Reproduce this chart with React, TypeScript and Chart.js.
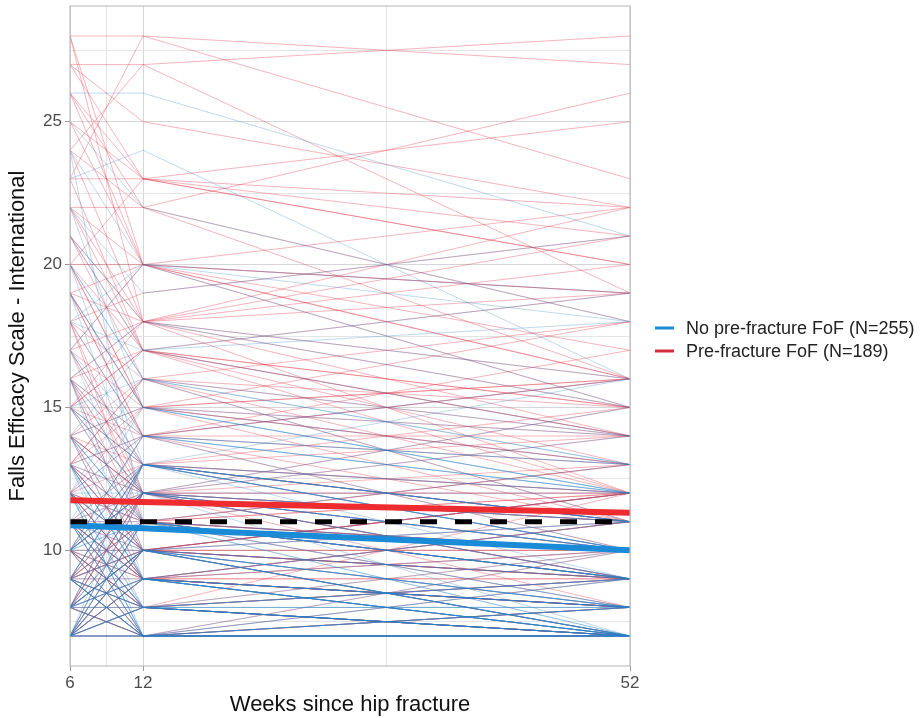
import React, { useEffect, useRef } from "react";
import { Chart, registerables } from "chart.js";

Chart.register(...registerables);

const weeks = [6, 12, 52];

// No pre-fracture FoF individual trajectories (null = missing visit)
const noFofW6 = [
  7, 7, 7, 8, 9, 7, 8, 10, 12, 7,
  9, 11, 13, 8, 10, 14, 16, 7, 9, 11,
  12, 15, 17, 8, 10, 7, 13, 18, 20, 22,
  9, 11, 12, 7, 8, 14, 16, 19, 21, 24,
  26, 10, 12, 7, 9, 11, 13, 15, 8, 10,
  17, 23, 7, 9, 12, 14, 18, 8, 10, 16,
  7, 9, 11, 13, 20, 25, 15, 8, 12, 10,
  7, 9, 14, 11, 19, 22, 8, 13, 16, 7,
  10, 12, 9, 17, 21, 11, 8, 15, 14, 7,
  10, 13, 18, 24, 7, 9, 12, 11, 8, 16,
  8, 7, 9, 10, 11, 7, 12, 8, 9, 13,
  7, 10, 14, 8, 11, 9, 7, 12, 15, 10,
  8, 13, 9, 7, 11, 16, 10, 8, 12, 9,
  7, 14, 10, 11, 8, 19, 9, 13, 7, 12,
  10, 8, 17, 9, 11, 7, 13, 10, 8, 15,
  9, 12, 7, 11, 10, 14, 8, 20, 9, 7,
];
const noFofW12 = [
  7, 7, 8, 7, 7, 9, 8, 8, 9, 10,
  11, 7, 10, 12, 10, 12, 9, 7, 9, 13,
  8, 11, 13, 9, 12, 11, 7, 14, 16, 15,
  8, 10, 14, 8, 10, 9, 13, 12, 18, 20,
  26, 7, 11, 9, 10, 8, 12, 16, 7, 9,
  20, 24, 12, 13, 10, 15, 17, 11, 14, 10,
  7, 8, 9, 11, 13, 22, 12, 13, 16, 11,
  10, 7, 11, 12, 15, 19, 8, 9, 14, 13,
  8, 12, 10, 11, 17, 11, 9, 13, 17, 8,
  13, 14, 20, 11, 7, 12, 7, 15, 10, 18,
  9, 8, 7, 12, 8, 10, 7, 11, 13, 9,
  12, 7, 10, 13, 9, 7, 11, 8, 12, 14,
  10, 9, 8, 11, 7, 12, 13, 7, 10, 8,
  9, 11, 12, 7, 10, 15, 13, 8, 11, 7,
  12, 9, 14, 7, 8, 10, 9, 11, 10, 13,
  7, 10, 9, 8, 12, 11, 10, 16, 13, 8,
];
const noFofW52 = [
  7, 7, 7, 7, 7, 8, 7, 7, 7, 9,
  8, 8, 7, 10, 9, 11, 8, 9, 7, 10,
  7, 9, 12, 11, 7, 8, 7, 10, 13, 14,
  8, 11, 16, 9, 7, 8, 11, 9, 15, 19,
  21, 8, 13, 7, 12, 9, 10, 14, 8, 10,
  18, 16, 11, 9, 8, 12, 19, 9, 13, 7,
  8, 7, 7, 9, 10, 18, 15, 12, 11, 10,
  7, 9, 7, 9, 12, 21, 10, 11, 13, 10,
  7, 12, 8, 9, 14, 7, 7, 16, 18, 8,
  11, 12, 15, 9, 10, 14, 7, 13, 11, 16,
  8, 7, 7, null, 9, 8, 7, null, 10, 7,
  9, 7, null, 11, 8, 7, 9, null, 10, 12,
  7, 8, 7, null, 7, 10, 11, 7, null, 8,
  7, 9, null, 8, 7, 12, 10, 7, 9, null,
  11, 8, 12, 7, null, 9, 7, 10, 8, 11,
  null, 8, 7, 9, 10, null, 7, 13, 11, 7,
];

// Pre-fracture FoF individual trajectories (null = missing visit)
const fofW6 = [
  7, 8, 7, 9, 10, 12, 14, 16, 18, 20,
  22, 23, 28, 27, 24, 26, 28, 21, 19, 17,
  15, 13, 11, 10, 9, 8, 7, 12, 14, 16,
  18, 20, 25, 27, 28, 22, 19, 17, 15, 13,
  11, 10, 9, 8, 7, 12, 14, 16, 18, 21,
  23, 26, 24, 20, 17, 15, 13, 11, 9, 8,
  10, 12, 14, 16, 19, 22, 25, 7, 9, 11,
  13, 15, 17, 20, 23, 18, 12, 10, 8, 14,
  16, 21, 26, 19, 11, 13, 15, 27, 24, 9,
  9, 11, 13, 8, 10, 15, 12, 7, 14, 17,
  10, 9, 12, 16, 8, 11, 19, 13, 7, 10,
  12, 14, 9, 18, 11, 8, 15, 10, 13, 20,
  9, 11, 7, 12, 16, 10, 8, 14, 22, 13,
  7, 8, 9, 10, 7, 11, 8, 12, 9, 10,
  7, 13, 8, 9, 11, 10, 7, 12, 8, 9,
];
const fofW12 = [
  7, 7, 9, 8, 10, 11, 12, 13, 16, 20,
  22, 23, 28, 27, 18, 23, 20, 17, 15, 18,
  14, 12, 10, 9, 11, 10, 8, 13, 16, 12,
  14, 17, 20, 23, 18, 20, 18, 15, 17, 15,
  13, 12, 10, 9, 10, 9, 10, 17, 12, 16,
  28, 20, 22, 15, 13, 11, 14, 12, 12, 11,
  8, 15, 13, 18, 20, 17, 23, 9, 7, 11,
  16, 12, 20, 23, 17, 19, 10, 13, 8, 15,
  14, 18, 22, 14, 9, 11, 18, 25, 27, 9,
  11, 9, 10, 12, 7, 13, 14, 10, 9, 12,
  8, 12, 11, 10, 13, 9, 14, 16, 11, 8,
  10, 12, 13, 11, 9, 12, 17, 8, 11, 15,
  10, 7, 12, 9, 11, 14, 10, 12, 18, 10,
  8, 7, 10, 9, 7, 8, 10, 9, 7, 12,
  9, 10, 7, 11, 8, 7, 10, 9, 12, 8,
];
const fofW52 = [
  7, 7, 8, 7, 9, 10, 12, 11, 14, 19,
  26, 25, 27, 28, 20, 22, 16, 15, 13, 21,
  16, 11, 12, 8, 10, 9, 10, 14, 12, 10,
  17, 13, 19, 20, 12, 22, 16, 18, 19, 14,
  11, 13, 7, 11, 12, 8, 11, 15, 9, 11,
  23, 15, 18, 16, 10, 9, 16, 15, 10, 8,
  9, 13, 15, 22, 17, 14, 21, 9, 8, 13,
  18, 12, 16, 20, 12, 21, 10, 12, 9, 11,
  14, 19, 16, 10, 7, 12, 14, 22, 19, 9,
  10, null, 12, 11, 8, null, 13, 9, 11, null,
  7, 14, null, 12, 11, 8, null, 15, 10, 9,
  null, 11, 12, 9, 8, null, 14, 7, 12, 16,
  9, 8, null, 10, 13, 11, null, 9, 15, 12,
  7, 9, 7, 8, 10, 7, 8, 11, 7, 9,
  8, 10, 7, 9, 12, 7, 9, 10, 8, 7,
];

// Group mean trajectories
const meanNoFof = [10.88, 10.77, 10.0];
const meanFof = [11.75, 11.69, 11.31];
const overallMean = [11, 11, 11];

const yGridTicks = [7.5, 10, 12.5, 15, 17.5, 20, 22.5, 25, 27.5];
const yLabelTicks = [10, 15, 20, 25];
const xGridTicks = [6, 9, 12, 32, 52];
const xLabelTicks = [6, 12, 52];

const legendLabels = ["No pre-fracture FoF (N=255)", "Pre-fracture FoF (N=189)"];

const FONT = "'Liberation Sans', Arial, sans-serif";

const toPoints = (vals: (number | null)[]) => weeks.map((w, i) => ({ x: w, y: vals[i] }));

export default function App() {
  const ref = useRef<HTMLCanvasElement | null>(null);

  useEffect(() => {
    if (!ref.current) return;
    const datasets: any[] = [];
    for (let i = 0; i < noFofW6.length; i++) {
      datasets.push({
        data: toPoints([noFofW6[i], noFofW12[i], noFofW52[i]]),
        borderColor: "rgba(40,130,200,0.30)",
        borderWidth: 1,
        pointRadius: 0,
        spanGaps: false,
        order: 10,
      });
    }
    for (let i = 0; i < fofW6.length; i++) {
      datasets.push({
        data: toPoints([fofW6[i], fofW12[i], fofW52[i]]),
        borderColor: "rgba(228,50,70,0.36)",
        borderWidth: 1,
        pointRadius: 0,
        spanGaps: false,
        order: 10,
      });
    }
    datasets.push({
      data: toPoints(meanFof),
      borderColor: "#EE2B2E",
      borderWidth: 6,
      pointRadius: 0,
      order: 3,
    });
    datasets.push({
      data: toPoints(meanNoFof),
      borderColor: "#1A8BD6",
      borderWidth: 6,
      pointRadius: 0,
      order: 2,
    });
    datasets.push({
      data: toPoints(overallMean),
      borderColor: "#000000",
      borderWidth: 5,
      borderDash: [17, 18],
      pointRadius: 0,
      order: 1,
    });

    const framePlugin = {
      id: "frame",
      afterDraw(chart: any) {
        const { ctx, chartArea } = chart;
        ctx.save();
        ctx.strokeStyle = "#B5B5B5";
        ctx.lineWidth = 1;
        ctx.strokeRect(chartArea.left, chartArea.top, chartArea.right - chartArea.left, chartArea.bottom - chartArea.top);
        // legend
        const colors = ["#1B8FD6", "#D42E3C"];
        const ys = [328, 351];
        ctx.font = `18px ${FONT}`;
        ctx.textBaseline = "middle";
        ctx.textAlign = "left";
        for (let i = 0; i < 2; i++) {
          ctx.strokeStyle = colors[i];
          ctx.lineWidth = 3;
          ctx.beginPath();
          ctx.moveTo(655, ys[i]);
          ctx.lineTo(674, ys[i]);
          ctx.stroke();
          ctx.fillStyle = "#222222";
          ctx.fillText(legendLabels[i], 686, ys[i] + 1);
        }
        ctx.restore();
      },
    };

    const chart = new Chart(ref.current, {
      type: "line",
      data: { datasets },
      options: {
        animation: false,
        responsive: false,
        events: [],
        layout: { padding: { top: 6, right: 291, left: 0, bottom: 0 } },
        plugins: { legend: { display: false }, tooltip: { enabled: false } },
        scales: {
          x: {
            type: "linear",
            min: 6,
            max: 52,
            afterBuildTicks: (scale: any) => {
              scale.ticks = xGridTicks.map((v) => ({ value: v }));
            },
            afterFit: (scale: any) => {
              scale.height = 52;
              scale.paddingLeft = 0;
              scale.paddingRight = 0;
            },
            ticks: {
              autoSkip: false,
              maxRotation: 0,
              padding: 2,
              color: "#4D4D4D",
              font: { family: FONT, size: 17 },
              callback: (v: any) => (xLabelTicks.includes(Number(v)) ? String(v) : ""),
            },
            grid: {
              color: (c: any) => (xLabelTicks.includes(c.tick?.value) ? "#D6D6D6" : "#E4E4E4"),
              tickColor: (c: any) => (xLabelTicks.includes(c.tick?.value) ? "#9A9A9A" : "rgba(0,0,0,0)"),
              tickLength: 5,
            },
            border: { display: false },
            title: {
              display: true,
              text: "Weeks since hip fracture",
              color: "#111111",
              font: { family: FONT, size: 22 },
              padding: { top: 0, bottom: 0 },
            },
          },
          y: {
            type: "linear",
            min: 5.95,
            max: 29.05,
            afterBuildTicks: (scale: any) => {
              scale.ticks = yGridTicks.map((v) => ({ value: v }));
            },
            afterFit: (scale: any) => {
              scale.width = 70;
              scale.paddingTop = 0;
              scale.paddingBottom = 0;
            },
            ticks: {
              autoSkip: false,
              padding: 3,
              color: "#4D4D4D",
              font: { family: FONT, size: 17 },
              callback: (v: any) => (yLabelTicks.includes(Number(v)) ? String(v) : ""),
            },
            grid: {
              color: (c: any) => (yLabelTicks.includes(c.tick?.value) ? "#D6D6D6" : "#E4E4E4"),
              tickColor: (c: any) => (yLabelTicks.includes(c.tick?.value) ? "#9A9A9A" : "rgba(0,0,0,0)"),
              tickLength: 5,
            },
            border: { display: false },
            title: {
              display: true,
              text: "Falls Efficacy Scale - International",
              color: "#111111",
              font: { family: FONT, size: 22 },
              padding: { top: 5, bottom: 0 },
            },
          },
        },
      },
      plugins: [framePlugin],
    });
    return () => chart.destroy();
  }, []);

  return (
    <div style={{ position: "absolute", left: 0, top: 0, width: 921, height: 718, background: "#fff" }}>
      <canvas ref={ref} width={921} height={718} style={{ display: "block" }} />
    </div>
  );
}
